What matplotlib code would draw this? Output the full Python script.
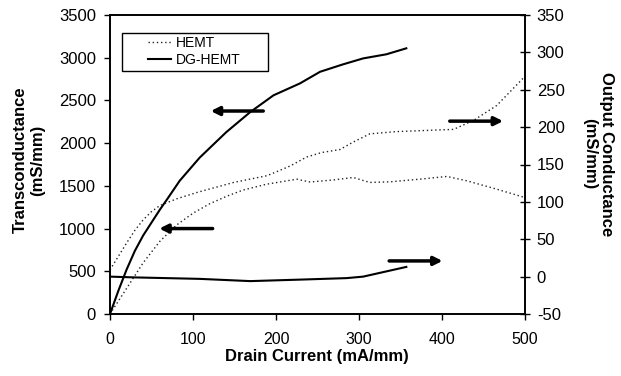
import matplotlib
matplotlib.use("Agg")
import matplotlib.pyplot as plt
from matplotlib.patches import Rectangle

plt.rcParams['font.family'] = ['Liberation Sans', 'DejaVu Sans']
plt.rcParams['axes.unicode_minus'] = False

# DG-HEMT transconductance (left axis)
dg_gm_x = [0, 10, 20, 30, 40, 50, 60, 70, 84, 108, 140, 169, 197, 229, 253, 280, 305, 333, 357]
dg_gm_y = [0, 270, 520, 740, 920, 1070, 1220, 1360, 1560, 1830, 2128, 2364, 2560, 2700, 2835, 2920, 2992, 3040, 3110]

# HEMT transconductance (left axis)
hemt_gm_x = [0, 20, 40, 60, 80, 100, 120, 141, 160, 189, 225, 241, 270, 293, 313, 337, 373, 406, 430, 466, 500]
hemt_gm_y = [0, 300, 600, 850, 1040, 1180, 1290, 1380, 1450, 1520, 1578, 1545, 1570, 1598, 1540, 1547, 1578, 1610, 1559, 1461, 1363]

# HEMT output conductance (right axis)
hemt_gd_x = [0, 10, 20, 30, 40, 50, 60, 80, 106, 149, 189, 200, 217, 237, 255, 277, 293, 313, 345, 414, 438, 466, 500]
hemt_gd_y = [9, 27, 45, 62, 76, 87, 95, 104, 113, 126, 135, 140, 148, 160, 166, 170, 180, 191, 194, 197, 209, 229, 268]

# DG-HEMT output conductance (right axis)
dg_gd_x = [0, 28, 68, 108, 169, 229, 285, 305, 325, 357]
dg_gd_y = [0, -1, -2, -3, -6, -4, -2, 0, 5, 13]

fig = plt.figure(figsize=(6.21, 3.76), dpi=100)
ax = fig.add_axes([110/621, 1-314/376, 415/621, 299/376])
ax2 = ax.twinx()

ax.plot(dg_gm_x, dg_gm_y, color='black', lw=1.5, label='DG-HEMT')
ax.plot(hemt_gm_x, hemt_gm_y, color='#222222', lw=1.0, linestyle=(0, (1, 2)), label='HEMT')
ax2.plot(hemt_gd_x, hemt_gd_y, color='#222222', lw=1.0, linestyle=(0, (1, 2)))
ax2.plot(dg_gd_x, dg_gd_y, color='black', lw=1.5)

ax.set_xlim(0, 500)
ax.set_ylim(0, 3500)
ax2.set_ylim(-50, 350)
ax.set_xticks([0, 100, 200, 300, 400, 500])
ax.set_yticks(range(0, 3501, 500))
ax2.set_yticks(range(-50, 351, 50))

for a in (ax, ax2):
    for s in a.spines.values():
        s.set_linewidth(1.2)
ax.tick_params(axis='x', direction='out', length=4, width=1, labelsize=11.5, pad=9)
ax.tick_params(axis='y', direction='out', length=4, width=1, labelsize=12, pad=6)
ax2.tick_params(axis='y', direction='inout', length=7, width=1, labelsize=12, pad=5)

fig.text(317/621, 1-356/376, 'Drain Current (mA/mm)', fontsize=12, fontweight='bold',
         ha='center', va='center')
fig.text(29/621, 1-160/376, 'Transconductance\n(mS/mm)', fontsize=12, fontweight='bold',
         rotation=90, ha='center', va='center', multialignment='center', linespacing=1.15)
fig.text(598/621, 1-154/376, 'Output Conductance\n(mS/mm)', fontsize=12, fontweight='bold',
         rotation=270, ha='center', va='center', multialignment='center', linespacing=1.15)

# arrows
arrow_kw = dict(arrowstyle='-|>,head_length=0.5,head_width=0.25', color='black', lw=2.5)
ax.annotate('', xy=(118, 2376), xytext=(188, 2376), arrowprops=arrow_kw)
ax.annotate('', xy=(56, 1000), xytext=(127, 1000), arrowprops=arrow_kw)
ax2.annotate('', xy=(477, 208), xytext=(406, 208), arrowprops=arrow_kw)
ax2.annotate('', xy=(404, 21), xytext=(333, 21), arrowprops=arrow_kw)

h, l = ax.get_legend_handles_labels()
leg = ax.legend([h[1], h[0]], [l[1], l[0]], loc='upper left',
                bbox_to_anchor=((148-110)/415, (314-36)/299),
                fontsize=10, frameon=False, handlelength=1.68, handletextpad=0.36,
                borderpad=0, labelspacing=0.2, borderaxespad=0)
ax.add_patch(Rectangle(((122-110)/415, (314-70.7)/299), (268-122)/415, (70.7-32.7)/299,
                       transform=ax.transAxes, fill=False, edgecolor='black', lw=1.0, zorder=5))

fig.savefig('out.png', dpi=100)
